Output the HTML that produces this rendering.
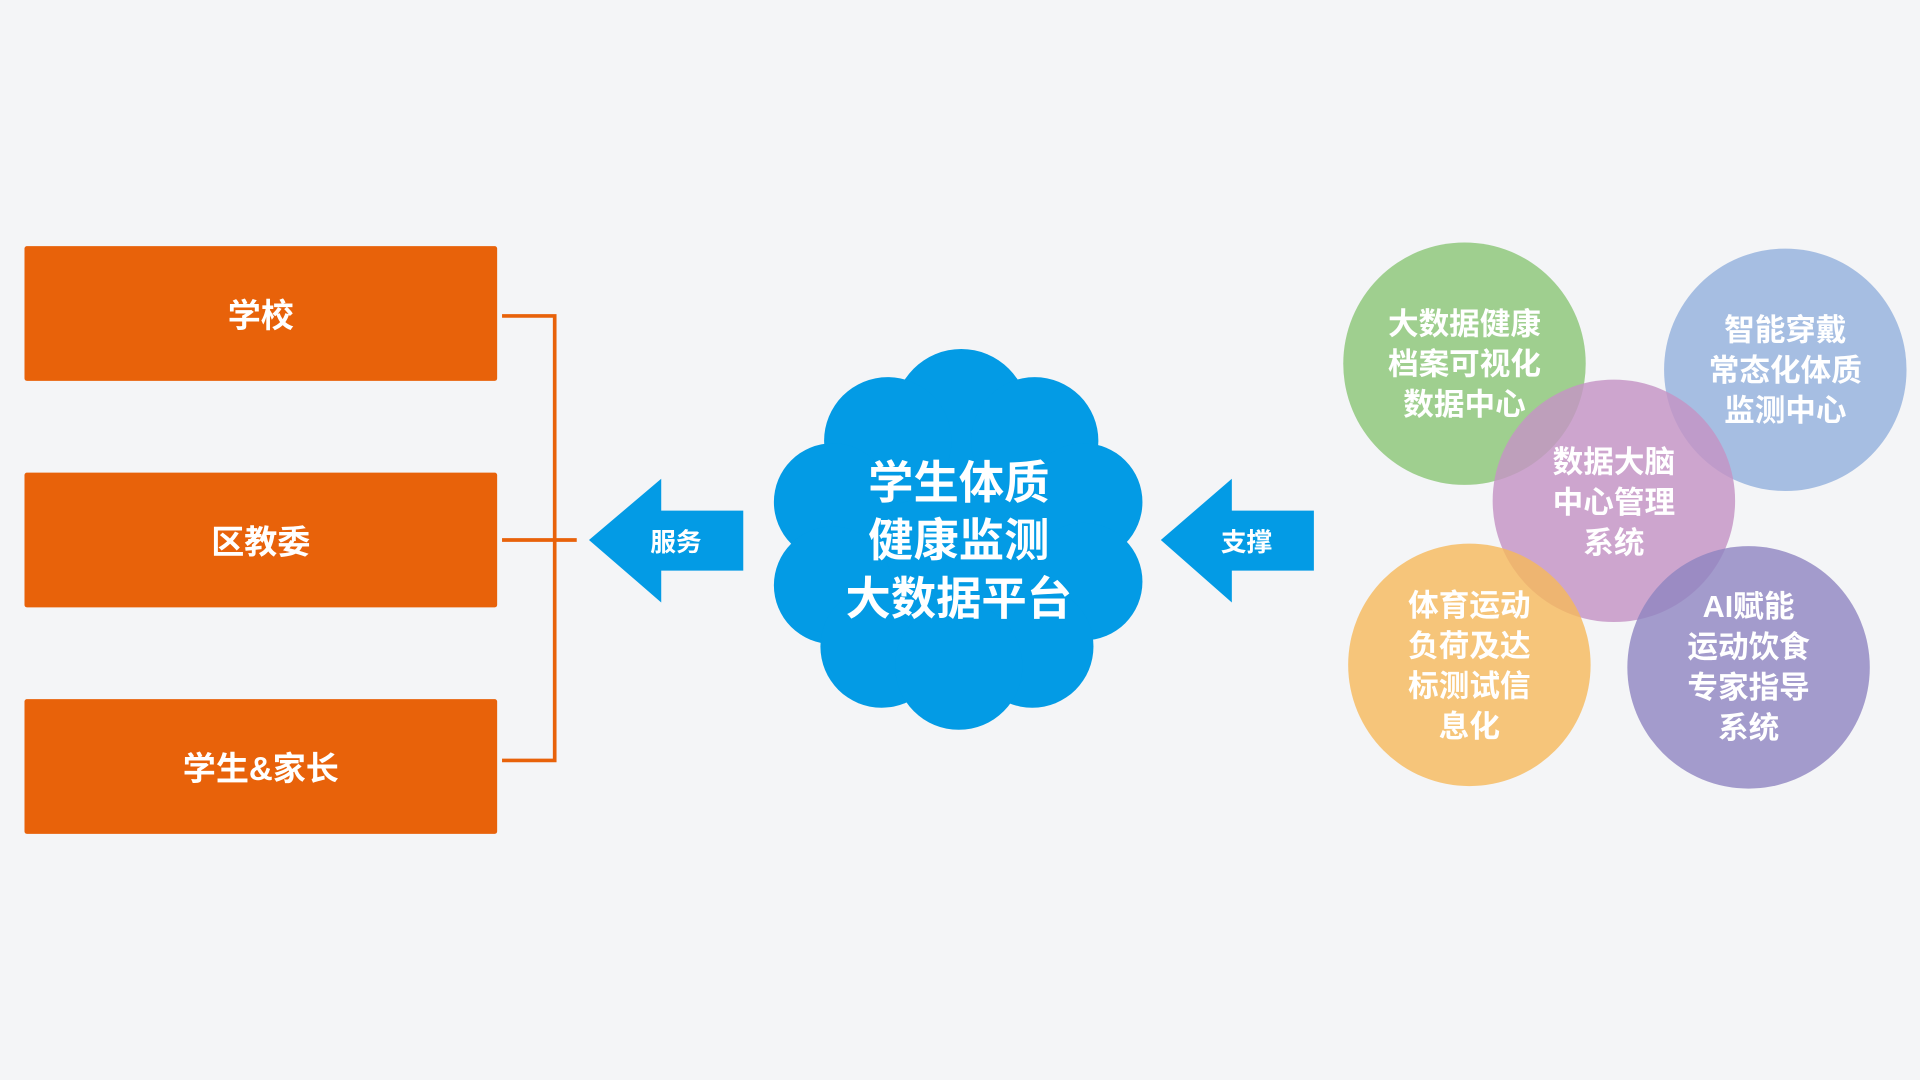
<!DOCTYPE html>
<html><head><meta charset="utf-8"><style>
html,body{margin:0;padding:0;background:#F4F5F7;}
svg{display:block}
text{font-family:"Liberation Sans","Noto Sans CJK SC",sans-serif;font-weight:bold;fill:#fff;text-anchor:middle}
</style></head><body>
<svg width="1920" height="1080" viewBox="0 0 1568 882" xmlns="http://www.w3.org/2000/svg">
<rect width="1568" height="882" fill="#F4F5F7"/>
<g fill="#E8620A">
<rect x="20" y="201" width="386" height="110" rx="2"/>
<rect x="20" y="386" width="386" height="110" rx="2"/>
<rect x="20" y="571" width="386" height="110" rx="2"/>
</g>
<text x="213" y="267" font-size="27">学校</text>
<text x="213" y="452" font-size="27">区教委</text>
<text x="213" y="637" font-size="27">学生&amp;家长</text>
<g stroke="#E8620A" stroke-width="3" fill="none">
<polyline points="410,258 453,258 453,621 410,621"/>
<line x1="410" y1="441" x2="471" y2="441"/>
</g>
<polygon fill="#039BE5" points="481,441 540,391 540,417 607,417 607,466 540,466 540,492"/>
<text x="552" y="450" font-size="21">服务</text>
<polygon fill="#039BE5" points="948,441 1006,391 1006,417 1073,417 1073,466 1006,466 1006,492"/>
<text x="1018" y="450" font-size="21">支撑</text>
<g fill="#039BE5">
<circle cx="783" cy="440" r="125"/>
<circle cx="785" cy="340" r="55"/>
<circle cx="725" cy="360" r="52"/>
<circle cx="845" cy="360" r="52"/>
<circle cx="680" cy="410" r="48"/>
<circle cx="885" cy="410" r="48"/>
<circle cx="680" cy="478" r="48"/>
<circle cx="885" cy="475" r="48"/>
<circle cx="720" cy="528" r="50"/>
<circle cx="843" cy="528" r="50"/>
<circle cx="783" cy="544" r="52"/>
</g>
<text x="783" y="407" font-size="37">学生体质</text>
<text x="783" y="454" font-size="37">健康监测</text>
<text x="783" y="502" font-size="37">大数据平台</text>
<g opacity="0.92">
<circle cx="1196" cy="297" r="99" fill="#97CB85"/>
<circle cx="1458" cy="302" r="99" fill="#9EB8E0"/>
</g>
<circle cx="1318" cy="409" r="99" fill="#C594C4" opacity="0.82"/>
<circle cx="1200" cy="543" r="99" fill="#F6B95A" opacity="0.8"/>
<circle cx="1428" cy="545" r="99" fill="#8F84C0" opacity="0.8"/>
<g font-size="25">
<text x="1196" y="273">大数据健康</text>
<text x="1196" y="306">档案可视化</text>
<text x="1196" y="339">数据中心</text>
<text x="1458" y="278">智能穿戴</text>
<text x="1458" y="311">常态化体质</text>
<text x="1458" y="344">监测中心</text>
<text x="1318" y="386">数据大脑</text>
<text x="1318" y="419">中心管理</text>
<text x="1318" y="452">系统</text>
<text x="1200" y="503">体育运动</text>
<text x="1200" y="536">负荷及达</text>
<text x="1200" y="569">标测试信</text>
<text x="1200" y="602">息化</text>
<text x="1428" y="504">AI赋能</text>
<text x="1428" y="537">运动饮食</text>
<text x="1428" y="570">专家指导</text>
<text x="1428" y="603">系统</text>
</g>
</svg>
</body></html>
